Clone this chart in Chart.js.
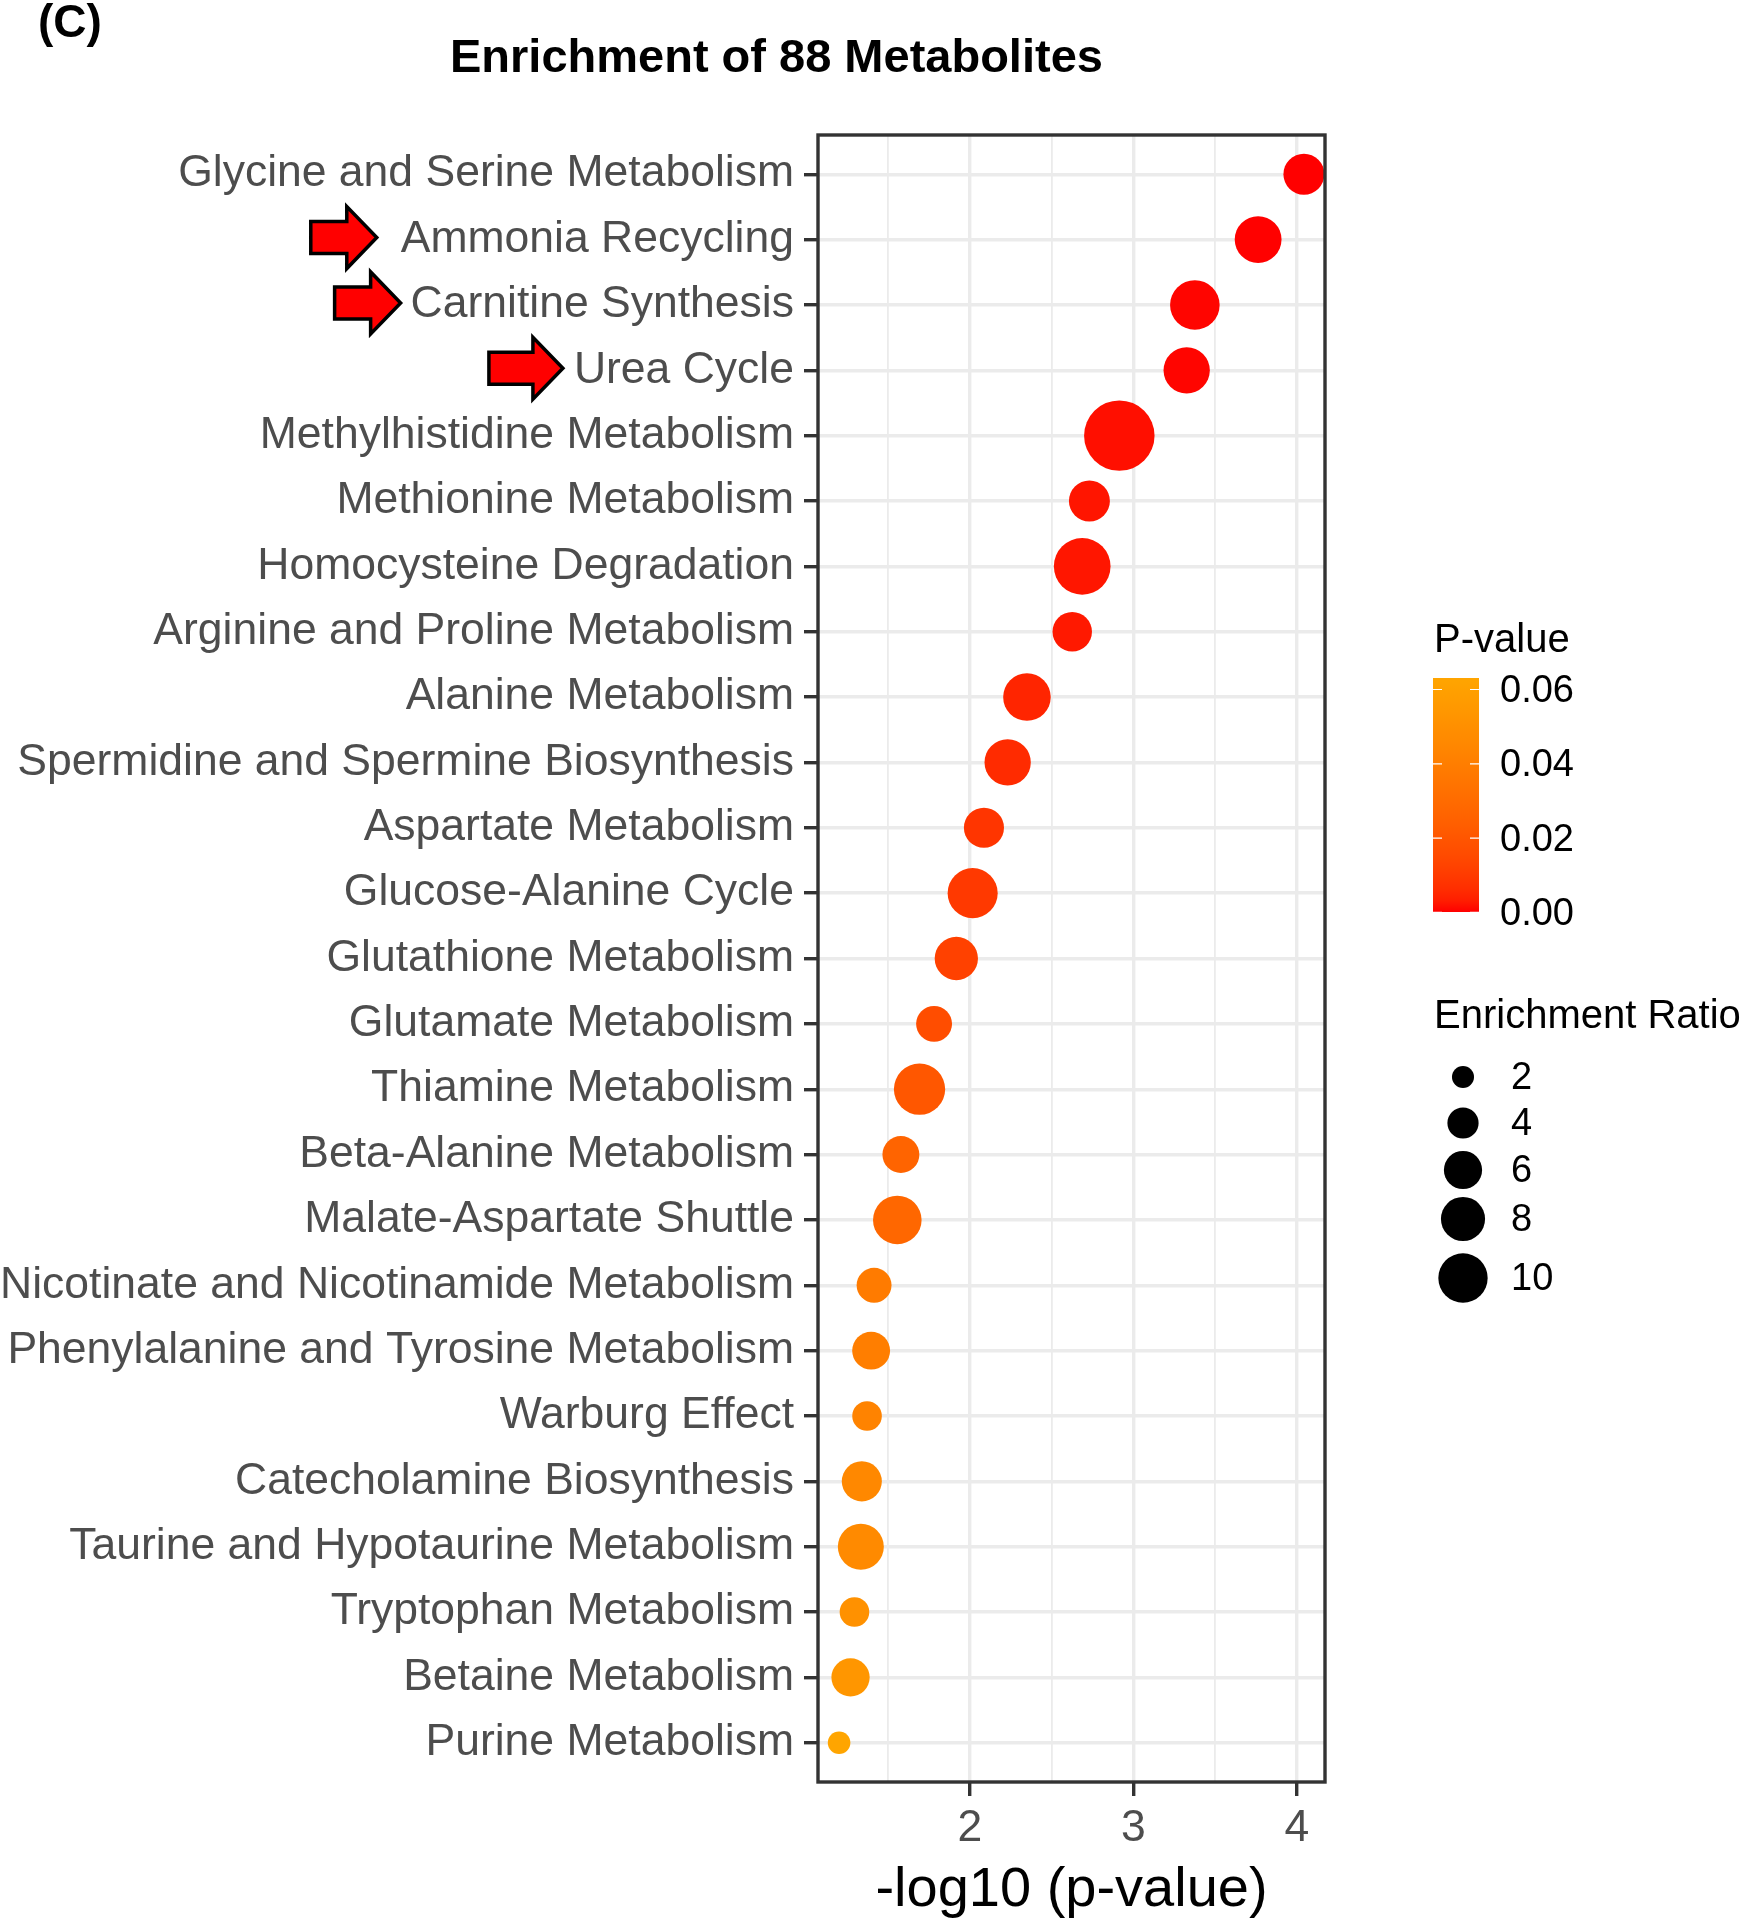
<!DOCTYPE html>
<html>
<head>
<meta charset="utf-8">
<title>Enrichment of 88 Metabolites</title>
<script src="https://cdn.jsdelivr.net/npm/chart.js@4.4.1/dist/chart.umd.min.js"></script>
<style>
  html, body { margin: 0; padding: 0; background: #fff; }
  #wrap { width: 1745px; height: 1920px; }
</style>
</head>
<body>
<div id="wrap"><canvas id="chart" width="1745" height="1920"></canvas></div>
<script>
// 데이터
const pathways = [
    'Glycine and Serine Metabolism',
    'Ammonia Recycling',
    'Carnitine Synthesis',
    'Urea Cycle',
    'Methylhistidine Metabolism',
    'Methionine Metabolism',
    'Homocysteine Degradation',
    'Arginine and Proline Metabolism',
    'Alanine Metabolism',
    'Spermidine and Spermine Biosynthesis',
    'Aspartate Metabolism',
    'Glucose-Alanine Cycle',
    'Glutathione Metabolism',
    'Glutamate Metabolism',
    'Thiamine Metabolism',
    'Beta-Alanine Metabolism',
    'Malate-Aspartate Shuttle',
    'Nicotinate and Nicotinamide Metabolism',
    'Phenylalanine and Tyrosine Metabolism',
    'Warburg Effect',
    'Catecholamine Biosynthesis',
    'Taurine and Hypotaurine Metabolism',
    'Tryptophan Metabolism',
    'Betaine Metabolism',
    'Purine Metabolism'
];
const negLog10P = [4.043, 3.763, 3.376, 3.326, 2.914, 2.731, 2.687, 2.626, 2.349, 2.231,
                   2.086, 2.017, 1.917, 1.781, 1.692, 1.578, 1.556, 1.414, 1.396, 1.371,
                   1.339, 1.333, 1.294, 1.270, 1.200];
const enrichRatio = [6.9, 9.0, 10.1, 8.8, 20.4, 6.9, 13.2, 6.4, 9.3, 8.8,
                     6.6, 10.3, 7.7, 5.3, 10.8, 5.6, 9.7, 5.0, 5.9, 3.6,
                     6.6, 8.7, 3.6, 6.0, 2.1];
const pValueBreaks = [0, 0.02, 0.04, 0.06];
const ratioBreaks = [2, 4, 6, 8, 10];
const highlighted = [1, 2, 3]; // 화살표 표시 항목

const FONT = "'Liberation Sans', Arial, Helvetica, sans-serif";
const AXIS_GREY = '#4D4D4D';

// 색상: red -> orange, Lab 보간 (ggplot 방식)
function toLinear(c) { c /= 255; return c <= 0.04045 ? c / 12.92 : Math.pow((c + 0.055) / 1.055, 2.4); }
function toSrgb(c) {
    c = c <= 0.0031308 ? 12.92 * c : 1.055 * Math.pow(c, 1 / 2.4) - 0.055;
    return Math.round(Math.max(0, Math.min(1, c)) * 255);
}
function rgb2lab(rgb) {
    const [r, g, b] = rgb.map(toLinear);
    const x = (0.4124 * r + 0.3576 * g + 0.1805 * b) / 0.95047;
    const y = 0.2126 * r + 0.7152 * g + 0.0722 * b;
    const z = (0.0193 * r + 0.1192 * g + 0.9505 * b) / 1.08883;
    const f = t => t > 0.008856 ? Math.cbrt(t) : 7.787 * t + 16 / 116;
    return [116 * f(y) - 16, 500 * (f(x) - f(y)), 200 * (f(y) - f(z))];
}
function lab2rgb([L, a, bb]) {
    const fy = (L + 16) / 116, fx = fy + a / 500, fz = fy - bb / 200;
    const fi = t => t * t * t > 0.008856 ? t * t * t : (t - 16 / 116) / 7.787;
    const x = fi(fx) * 0.95047, y = fi(fy), z = fi(fz) * 1.08883;
    return [
        toSrgb(3.2406 * x - 1.5372 * y - 0.4986 * z),
        toSrgb(-0.9689 * x + 1.8758 * y + 0.0415 * z),
        toSrgb(0.0557 * x - 0.2040 * y + 1.0570 * z)
    ];
}
const LOW = rgb2lab([255, 0, 0]);
const HIGH = rgb2lab([255, 165, 0]);
function gradientColor(t) {
    const lab = LOW.map((v, i) => v + (HIGH[i] - v) * t);
    const [r, g, b] = lab2rgb(lab);
    return `rgb(${r},${g},${b})`;
}

const pValues = negLog10P.map(v => Math.pow(10, -v));
const pMin = Math.min(...pValues);
const pMax = Math.max(...pValues);
const pointColors = pValues.map(p => gradientColor((p - pMin) / (pMax - pMin)));

// 크기: 면적 비례
const radiusOf = ratio => 7.8 * Math.sqrt(ratio);

const isWhole = v => Math.abs(v - Math.round(v)) < 1e-9;

// 제목, 테두리, 화살표, 범례
const decorPlugin = {
    id: 'decor',
    afterDatasetsDraw(chart) {
        const { ctx, chartArea: a } = chart;
        ctx.save();
        ctx.strokeStyle = '#333333';
        ctx.lineWidth = 3.4;
        ctx.strokeRect(a.left, a.top, a.right - a.left, a.bottom - a.top);
        ctx.restore();
    },
    afterDraw(chart) {
        const { ctx, chartArea: a } = chart;
        const yScale = chart.scales.y;
        ctx.save();

        // 패널 라벨과 제목
        ctx.fillStyle = '#000';
        ctx.textAlign = 'left';
        ctx.textBaseline = 'alphabetic';
        ctx.font = `bold 46px ${FONT}`;
        ctx.fillText('(C)', 38, 37);
        ctx.font = `bold 47px ${FONT}`;
        ctx.fillText('Enrichment of 88 Metabolites', 450, 72);

        // 화살표
        const gaps = [24, 10, 11];
        const lens = [66, 66, 74];
        ctx.font = `44.5px ${FONT}`;
        const labelRight = a.left - 14 - 10;
        highlighted.forEach((row, i) => {
            const w = ctx.measureText(pathways[row]).width;
            const tip = labelRight - w - gaps[i];
            const cy = yScale.getPixelForValue(row) - 2;
            ctx.beginPath();
            ctx.moveTo(tip - lens[i], cy - 16);
            ctx.lineTo(tip - 30, cy - 16);
            ctx.lineTo(tip - 30, cy - 31);
            ctx.lineTo(tip, cy);
            ctx.lineTo(tip - 30, cy + 31);
            ctx.lineTo(tip - 30, cy + 16);
            ctx.lineTo(tip - lens[i], cy + 16);
            ctx.closePath();
            ctx.fillStyle = '#FF0000';
            ctx.fill();
            ctx.lineWidth = 3.5;
            ctx.lineJoin = 'miter';
            ctx.strokeStyle = '#000';
            ctx.stroke();
        });

        // 컬러바 범례
        const bx = 1433, bw = 46, btop = 678, bbot = 912;
        ctx.fillStyle = '#000';
        ctx.font = `40px ${FONT}`;
        ctx.textBaseline = 'alphabetic';
        ctx.fillText('P-value', 1434, 652);
        const grad = ctx.createLinearGradient(0, bbot, 0, btop);
        for (let k = 0; k <= 20; k++) grad.addColorStop(k / 20, gradientColor(k / 20));
        ctx.fillStyle = grad;
        ctx.fillRect(bx, btop, bw, bbot - btop);
        ctx.font = `38px ${FONT}`;
        ctx.textBaseline = 'middle';
        pValueBreaks.forEach(v => {
            const y = bbot - (v - pMin) / (pMax - pMin) * (bbot - btop);
            ctx.strokeStyle = '#FFFFFF';
            ctx.lineWidth = 1.2;
            ctx.beginPath();
            ctx.moveTo(bx, y); ctx.lineTo(bx + 9, y);
            ctx.moveTo(bx + bw - 9, y); ctx.lineTo(bx + bw, y);
            ctx.stroke();
            ctx.fillStyle = '#000';
            ctx.fillText(v.toFixed(2), 1500, y + 2);
        });

        // 크기 범례
        ctx.font = `40px ${FONT}`;
        ctx.textBaseline = 'alphabetic';
        ctx.fillText('Enrichment Ratio', 1434, 1028);
        const keyY = [1077, 1123, 1170, 1219, 1278];
        ctx.font = `38px ${FONT}`;
        ctx.textBaseline = 'middle';
        ratioBreaks.forEach((v, i) => {
            ctx.beginPath();
            ctx.arc(1463, keyY[i], radiusOf(v), 0, Math.PI * 2);
            ctx.fillStyle = '#000';
            ctx.fill();
            ctx.fillText(String(v), 1511, keyY[i] + 2);
        });

        ctx.restore();
    }
};

Chart.defaults.font.family = FONT;

new Chart(document.getElementById('chart'), {
    type: 'bubble',
    data: {
        datasets: [{
            data: negLog10P.map((v, i) => ({ x: v, y: i })),
            radius: c => c.dataIndex == null ? 0 : radiusOf(enrichRatio[c.dataIndex]),
            backgroundColor: c => c.dataIndex == null ? '#f00' : pointColors[c.dataIndex],
            borderWidth: 0,
            clip: false
        }]
    },
    options: {
        responsive: false,
        devicePixelRatio: 1,
        animation: false,
        events: [],
        layout: { padding: { left: 0, right: 420, top: 135, bottom: 0 } },
        plugins: {
            legend: { display: false },
            tooltip: { enabled: false }
        },
        scales: {
            x: {
                type: 'linear',
                min: 1.071,
                max: 4.172,
                afterFit: s => { s.height = 138; },
                border: { display: false },
                grid: {
                    color: '#EBEBEB',
                    lineWidth: c => (c.tick && isWhole(c.tick.value)) ? 3.4 : 1.8,
                    drawTicks: true,
                    tickLength: 14,
                    tickWidth: 3.4,
                    tickColor: c => (c.tick && isWhole(c.tick.value)) ? '#333333' : 'rgba(0,0,0,0)'
                },
                ticks: {
                    stepSize: 0.5,
                    includeBounds: false,
                    autoSkip: false,
                    maxRotation: 0,
                    padding: 6,
                    color: AXIS_GREY,
                    font: { size: 44.5 },
                    callback: v => isWhole(v) ? String(Math.round(v)) : ''
                },
                title: {
                    display: true,
                    text: '-log10 (p-value)',
                    color: '#000',
                    font: { size: 56, lineHeight: 1.0 },
                    padding: { top: 0, bottom: 1.5 }
                }
            },
            y: {
                type: 'linear',
                reverse: true,
                min: -0.6,
                max: 24.6,
                afterFit: s => { s.width = 818; },
                border: { display: false },
                grid: {
                    color: '#EBEBEB',
                    lineWidth: 3.4,
                    drawTicks: true,
                    tickLength: 14,
                    tickWidth: 3.4,
                    tickColor: '#333333'
                },
                ticks: {
                    stepSize: 1,
                    includeBounds: false,
                    autoSkip: false,
                    padding: 10,
                    color: AXIS_GREY,
                    font: { size: 44.5 },
                    callback: v => (isWhole(v) && pathways[Math.round(v)]) ? pathways[Math.round(v)] : ''
                }
            }
        }
    },
    plugins: [decorPlugin]
});
</script>
</body>
</html>
